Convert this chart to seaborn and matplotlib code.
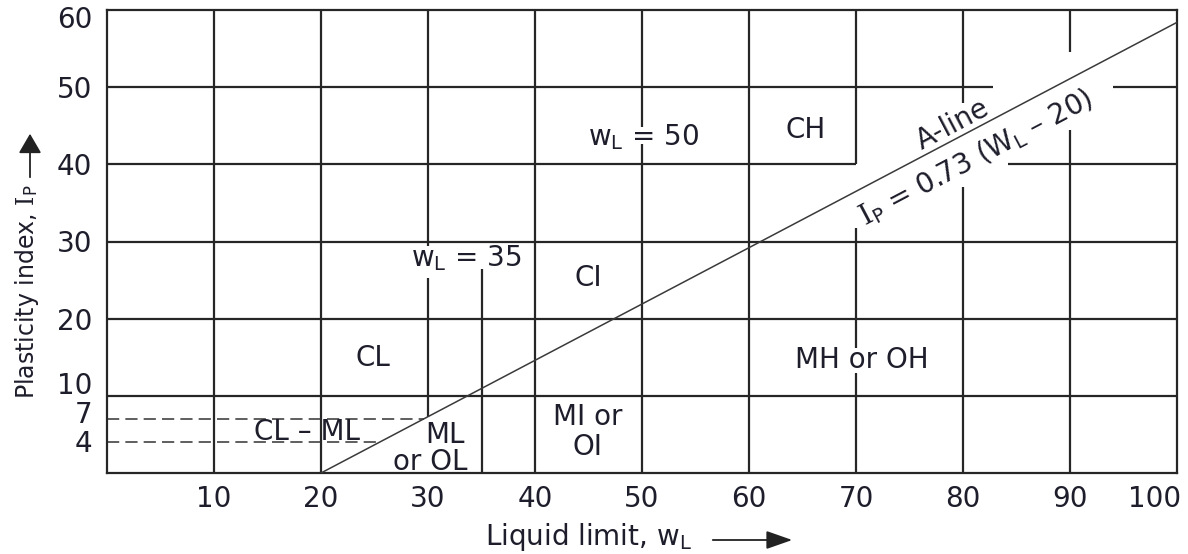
import numpy as np
import matplotlib
matplotlib.use("Agg")
import matplotlib.pyplot as plt
import matplotlib.transforms as mtransforms
import seaborn as sns
import pandas as pd

# ---------------- data ----------------
x_ticks = [10, 20, 30, 40, 50, 60, 70, 80, 90, 100]
y_ticks = [4, 7, 10, 20, 30, 40, 50, 60]

# A-line  Ip = 0.73 (wL - 20), end points
a_line_wl = [20, 100]
a_line_ip = [0.0, 58.4]

# CL-ML band limits (dashed)
band_ip = [4, 7]
band_wl_end = [25.5, 29.6]

zone_names = ["CL", "CI", "CH", "MH or OH", "CL \u2013 ML", "MI or", "OI", "ML", "or OL"]

# ---------------- figure ----------------
sns.set_theme(style="white")
plt.rcParams["font.family"] = ["DejaVu Sans"]
W, H = 1188, 554
fig = plt.figure(figsize=(W / 100, H / 100), dpi=100)
ax = fig.add_axes([107 / W, 1 - 473 / H, 1070 / W, 463 / H])
ax.set_xlim(0, 100)
ax.set_ylim(0, 60)

gcol = "#262626"
glw = 1.6
tcol = "#1d1d2b"
fs = 20

# grid segments (with gaps as in the original chart)
vsegs = {10: [(0, 60)], 20: [(0, 60)], 30: [(7.3, 25.3), (29.4, 60)], 35: [(0, 26.4)],
         40: [(0, 60)], 50: [(0, 42.6), (44.8, 60)], 60: [(0, 60)],
         70: [(0, 13.0), (16.2, 31.8), (40, 60)], 80: [(0, 37.0), (48.0, 60)],
         90: [(0, 44.5), (54.5, 60)]}
hsegs = {10: [(0, 100)], 20: [(0, 100)], 30: [(0, 100)],
         40: [(0, 70), (84.2, 100)], 50: [(0, 82.8), (94.0, 100)]}
for x, segs in vsegs.items():
    for y0, y1 in segs:
        ax.vlines(x, y0, y1, color=gcol, lw=glw, zorder=1)
for y, segs in hsegs.items():
    for x0, x1 in segs:
        ax.hlines(y, x0, x1, color=gcol, lw=glw, zorder=1)

# dashed band lines
for ip, wend in zip(band_ip, band_wl_end):
    df = pd.DataFrame({"wl": [0, wend], "ip": [ip, ip]})
    sns.lineplot(data=df, x="wl", y="ip", ax=ax, color="#333333", lw=1.1,
                 linestyle=(0, (8, 4)), zorder=2)

# A-line
df_a = pd.DataFrame({"wl": a_line_wl, "ip": a_line_ip})
sns.lineplot(data=df_a, x="wl", y="ip", ax=ax, color="#3a3a3a", lw=1.1, zorder=3)

for s in ax.spines.values():
    s.set_visible(True)
    s.set_color(gcol)
    s.set_linewidth(glw)

ax.set_xticks(x_ticks)
ax.set_yticks(y_ticks)
ax.set_xticklabels([str(v) for v in x_ticks])
ax.set_yticklabels([str(v) for v in y_ticks])
ax.tick_params(axis="x", length=0, pad=8.5, labelsize=fs, labelcolor=tcol)
ax.tick_params(axis="y", length=0, pad=10.5, labelsize=fs, labelcolor=tcol)
ax.set_xlabel("")
ax.set_ylabel("")

# zone labels
zone_pos = [(24.9, 14.9), (45.0, 25.3), (65.3, 44.5), (70.5, 14.7), (18.7, 5.3),
            (44.9, 7.3), (44.9, 3.4), (31.6, 4.9), (30.2, 1.4)]
for name, (x, y) in zip(zone_names, zone_pos):
    ax.text(x, y, name, ha="center", va="center", fontsize=fs, color=tcol, zorder=4)

ax.text(33.6, 27.9, r"w$_\mathrm{L}$ = 35", ha="center", va="center", fontsize=fs, color=tcol, zorder=4)
ax.text(50.1, 43.5, r"w$_\mathrm{L}$ = 50", ha="center", va="center", fontsize=fs, color=tcol, zorder=4)

ang = np.degrees(np.arctan(0.73))
ax.text(79.0, 45.1, "A-line", ha="center", va="center", rotation=ang,
        rotation_mode="anchor", transform_rotates_text=True, fontsize=fs, color=tcol, zorder=4)
ax.text(81.2, 40.8, "$\\mathrm{I}_\\mathsf{P}$ = 0.73 (W$_\\mathsf{L}$ \u2013 20)",
        ha="center", va="center", rotation=ang, rotation_mode="anchor",
        transform_rotates_text=True, fontsize=fs, color=tcol, zorder=4,
        math_fontfamily="dejavuserif")

# axis titles with arrows
fig.text(588 / W, 1 - 537 / H, r"Liquid limit, w$_\mathrm{L}$", ha="center", va="center",
         fontsize=fs, color=tcol)
fig.add_artist(matplotlib.patches.FancyArrowPatch((710 / W, 1 - 540 / H), (795 / W, 1 - 540 / H),
               transform=fig.transFigure, arrowstyle="-|>,head_length=8,head_width=2.8",
               color="#222222", lw=1.3, mutation_scale=2))
fig.text(27 / W, 1 - 292 / H, r"Plasticity index, $\mathrm{I}_\mathsf{P}$", ha="center", va="center",
         rotation=90, fontsize=17, color=tcol, math_fontfamily="dejavuserif")
fig.add_artist(matplotlib.patches.FancyArrowPatch((30 / W, 1 - 180 / H), (30 / W, 1 - 131 / H),
               transform=fig.transFigure, arrowstyle="-|>,head_length=6,head_width=3.5",
               color="#222222", lw=1.3, mutation_scale=2))

# nudge crowded tick labels like the original
fig.canvas.draw()
shifts = {"10": 9.5, "7": 5.0, "60": -5.0, "4": 1.0}
for lab in ax.get_yticklabels():
    t = lab.get_text()
    if t in shifts:
        lab.set_transform(lab.get_transform() +
                          mtransforms.ScaledTranslation(0, shifts[t] / 72, fig.dpi_scale_trans))
for lab in ax.get_xticklabels():
    if lab.get_text() == "100":
        lab.set_horizontalalignment("right")
        lab.set_transform(lab.get_transform() +
                          mtransforms.ScaledTranslation(3 / 72, 0, fig.dpi_scale_trans))

fig.savefig("out.png", dpi=100)
